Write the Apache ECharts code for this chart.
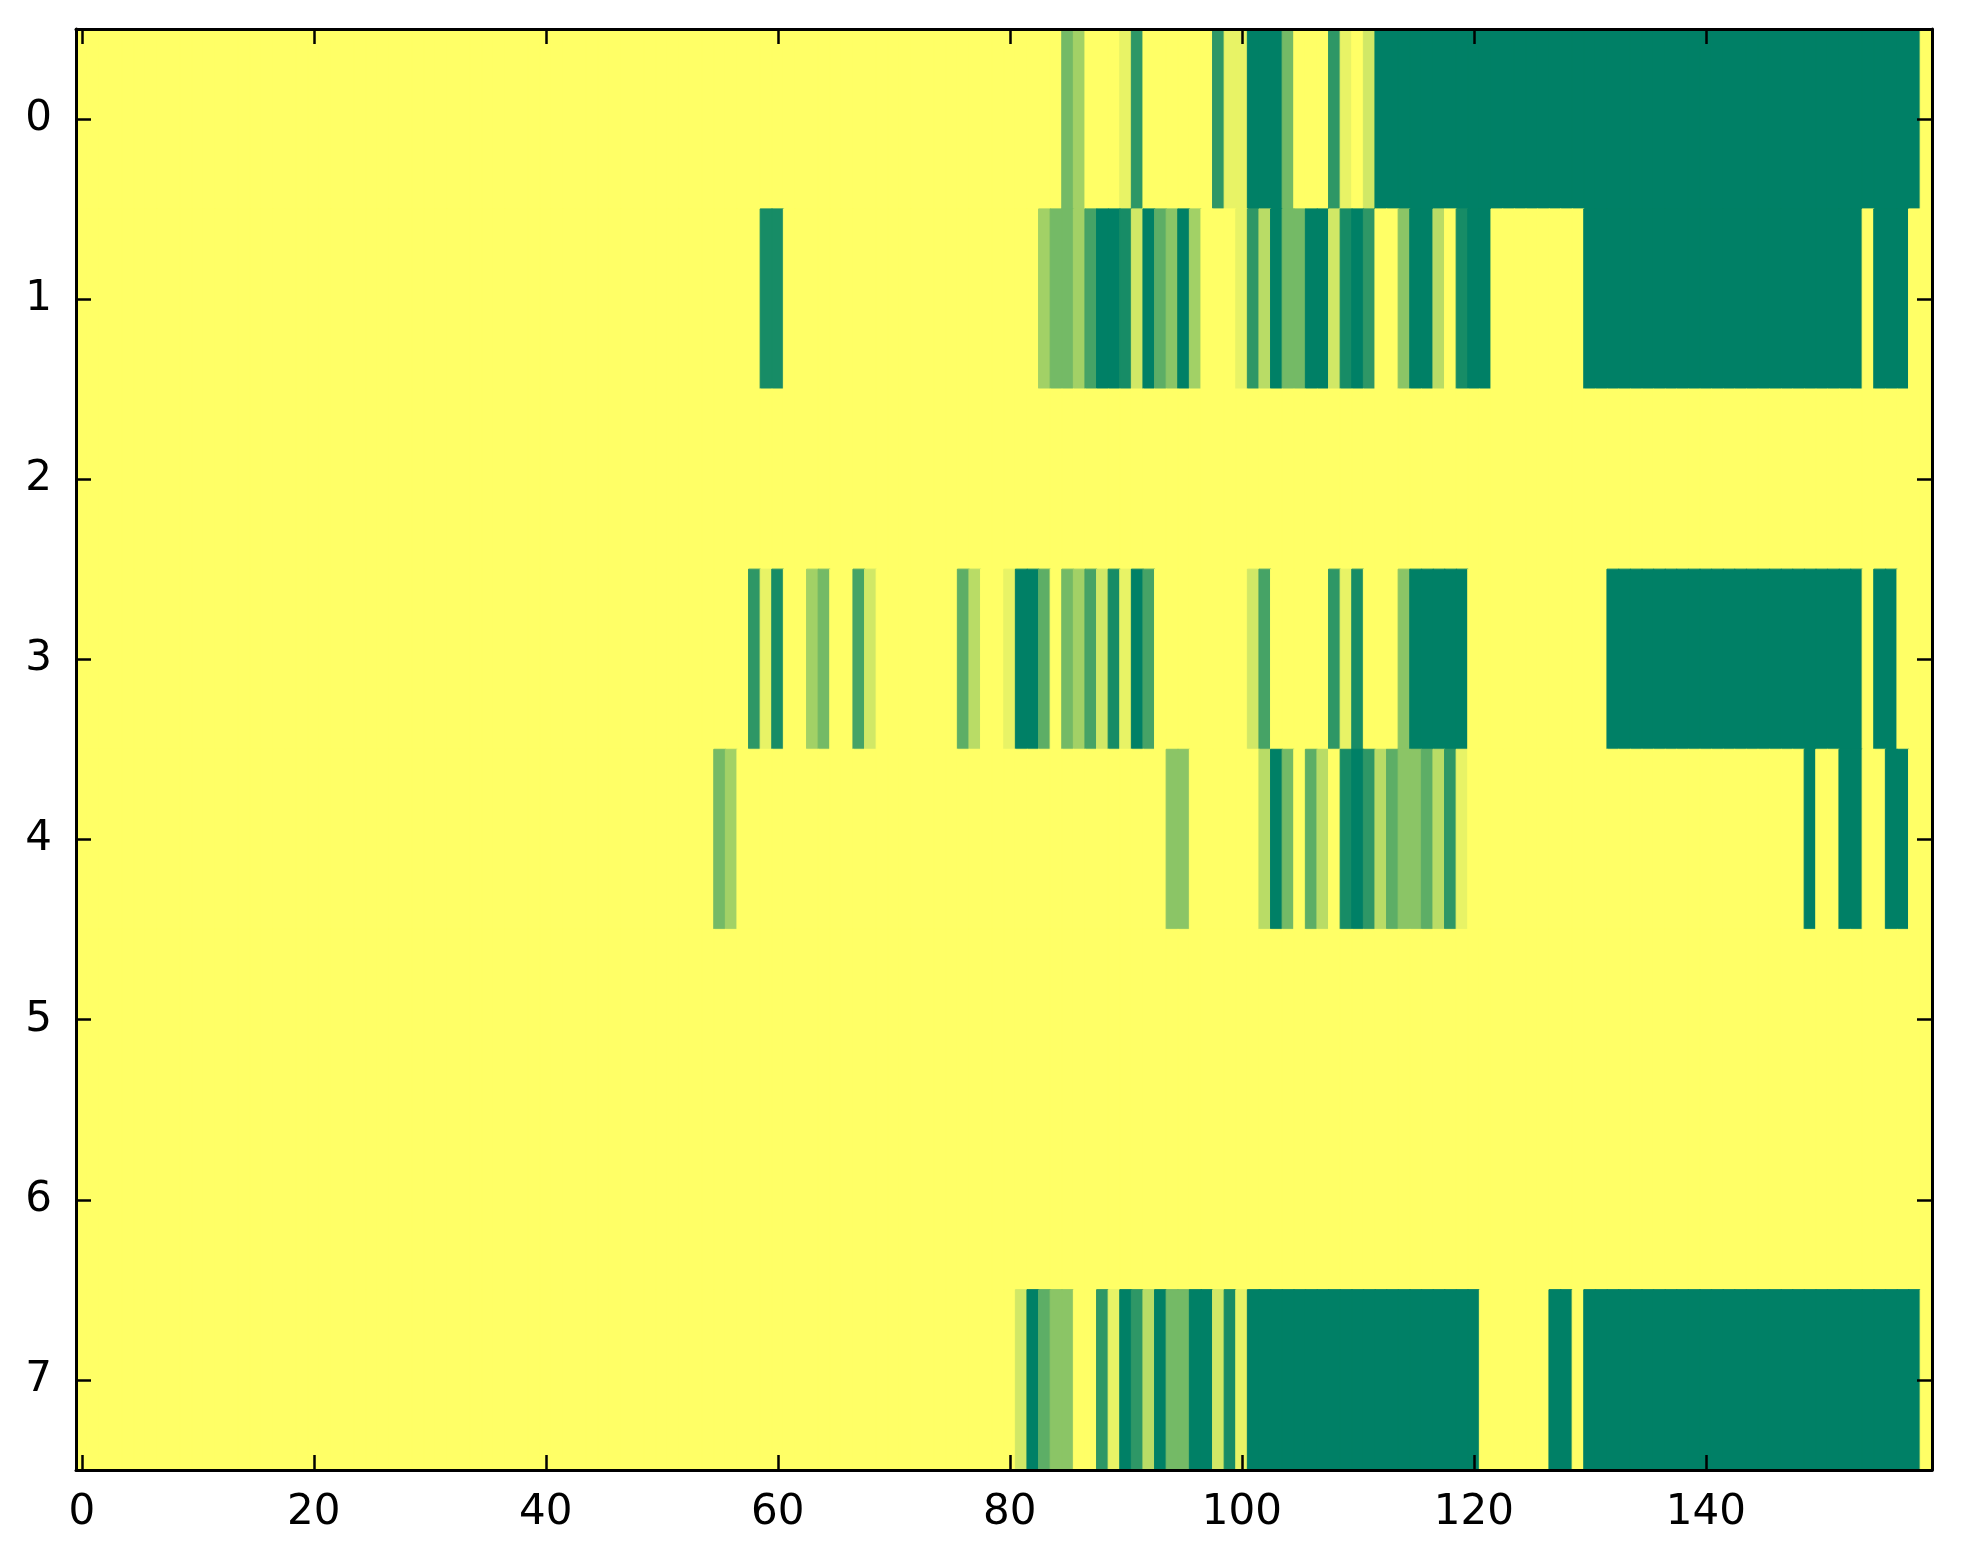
<!DOCTYPE html>
<html>
<head>
<meta charset="utf-8">
<script src="https://cdn.jsdelivr.net/npm/echarts@6/dist/echarts.min.js"></script>
<style>
html,body{margin:0;padding:0;background:#fff;}
#chart{width:1963px;height:1564px;}
</style>
</head>
<body>
<div id="chart"></div>
<script>
// Row labels (y) and x tick labels
var rowLabels = ['0','1','2','3','4','5','6','7'];
var xTickLabels = ['0','20','40','60','80','100','120','140'];
var nCols = 160;

// Cell values per row (160 columns each), colour scale 0..11
var row0 = [
0,0,0,0,0,0,0,0,0,0,0,0,0,0,0,0,0,0,0,0,
0,0,0,0,0,0,0,0,0,0,0,0,0,0,0,0,0,0,0,0,
0,0,0,0,0,0,0,0,0,0,0,0,0,0,0,0,0,0,0,0,
0,0,0,0,0,0,0,0,0,0,0,0,0,0,0,0,0,0,0,0,
0,0,0,0,0,6,4,0,0,0,1,9,0,0,0,0,0,0,9,1,
1,11,11,11,6,0,0,0,9,1,0,2,11,11,11,11,11,11,11,11,
11,11,11,11,11,11,11,11,11,11,11,11,11,11,11,11,11,11,11,11,
11,11,11,11,11,11,11,11,11,11,11,11,11,11,11,11,11,11,11,0
];
var row1 = [
0,0,0,0,0,0,0,0,0,0,0,0,0,0,0,0,0,0,0,0,
0,0,0,0,0,0,0,0,0,0,0,0,0,0,0,0,0,0,0,0,
0,0,0,0,0,0,0,0,0,0,0,0,0,0,0,0,0,0,0,10,
10,0,0,0,0,0,0,0,0,0,0,0,0,0,0,0,0,0,0,0,
0,0,0,4,6,6,4,8,11,11,10,2,11,7,5,11,4,0,0,0,
1,9,3,11,6,6,11,11,2,10,11,9,0,0,5,11,11,3,0,10,
11,11,0,0,0,0,0,0,0,0,11,11,11,11,11,11,11,11,11,11,
11,11,11,11,11,11,11,11,11,11,11,11,11,11,0,11,11,11,0,0
];
var row2 = [
0,0,0,0,0,0,0,0,0,0,0,0,0,0,0,0,0,0,0,0,
0,0,0,0,0,0,0,0,0,0,0,0,0,0,0,0,0,0,0,0,
0,0,0,0,0,0,0,0,0,0,0,0,0,0,0,0,0,0,0,0,
0,0,0,0,0,0,0,0,0,0,0,0,0,0,0,0,0,0,0,0,
0,0,0,0,0,0,0,0,0,0,0,0,0,0,0,0,0,0,0,0,
0,0,0,0,0,0,0,0,0,0,0,0,0,0,0,0,0,0,0,0,
0,0,0,0,0,0,0,0,0,0,0,0,0,0,0,0,0,0,0,0,
0,0,0,0,0,0,0,0,0,0,0,0,0,0,0,0,0,0,0,0
];
var row3 = [
0,0,0,0,0,0,0,0,0,0,0,0,0,0,0,0,0,0,0,0,
0,0,0,0,0,0,0,0,0,0,0,0,0,0,0,0,0,0,0,0,
0,0,0,0,0,0,0,0,0,0,0,0,0,0,0,0,0,0,9,1,
10,0,0,4,6,0,0,8,2,0,0,0,0,0,0,0,7,3,0,0,
1,11,11,7,0,6,4,8,2,10,1,11,8,0,0,0,0,0,0,0,
0,2,8,0,0,0,0,0,9,1,10,0,0,0,5,11,11,11,11,11,
0,0,0,0,0,0,0,0,0,0,0,0,11,11,11,11,11,11,11,11,
11,11,11,11,11,11,11,11,11,11,11,11,11,11,0,11,11,0,0,0
];
var row4 = [
0,0,0,0,0,0,0,0,0,0,0,0,0,0,0,0,0,0,0,0,
0,0,0,0,0,0,0,0,0,0,0,0,0,0,0,0,0,0,0,0,
0,0,0,0,0,0,0,0,0,0,0,0,0,0,0,6,4,0,0,0,
0,0,0,0,0,0,0,0,0,0,0,0,0,0,0,0,0,0,0,0,
0,0,0,0,0,0,0,0,0,0,0,0,0,0,5,5,0,0,0,0,
0,0,3,11,6,0,7,3,0,10,11,9,3,7,5,5,7,3,9,1,
0,0,0,0,0,0,0,0,0,0,0,0,0,0,0,0,0,0,0,0,
0,0,0,0,0,0,0,0,0,11,0,0,11,11,0,0,11,11,0,0
];
var row5 = [
0,0,0,0,0,0,0,0,0,0,0,0,0,0,0,0,0,0,0,0,
0,0,0,0,0,0,0,0,0,0,0,0,0,0,0,0,0,0,0,0,
0,0,0,0,0,0,0,0,0,0,0,0,0,0,0,0,0,0,0,0,
0,0,0,0,0,0,0,0,0,0,0,0,0,0,0,0,0,0,0,0,
0,0,0,0,0,0,0,0,0,0,0,0,0,0,0,0,0,0,0,0,
0,0,0,0,0,0,0,0,0,0,0,0,0,0,0,0,0,0,0,0,
0,0,0,0,0,0,0,0,0,0,0,0,0,0,0,0,0,0,0,0,
0,0,0,0,0,0,0,0,0,0,0,0,0,0,0,0,0,0,0,0
];
var row6 = [
0,0,0,0,0,0,0,0,0,0,0,0,0,0,0,0,0,0,0,0,
0,0,0,0,0,0,0,0,0,0,0,0,0,0,0,0,0,0,0,0,
0,0,0,0,0,0,0,0,0,0,0,0,0,0,0,0,0,0,0,0,
0,0,0,0,0,0,0,0,0,0,0,0,0,0,0,0,0,0,0,0,
0,0,0,0,0,0,0,0,0,0,0,0,0,0,0,0,0,0,0,0,
0,0,0,0,0,0,0,0,0,0,0,0,0,0,0,0,0,0,0,0,
0,0,0,0,0,0,0,0,0,0,0,0,0,0,0,0,0,0,0,0,
0,0,0,0,0,0,0,0,0,0,0,0,0,0,0,0,0,0,0,0
];
var row7 = [
0,0,0,0,0,0,0,0,0,0,0,0,0,0,0,0,0,0,0,0,
0,0,0,0,0,0,0,0,0,0,0,0,0,0,0,0,0,0,0,0,
0,0,0,0,0,0,0,0,0,0,0,0,0,0,0,0,0,0,0,0,
0,0,0,0,0,0,0,0,0,0,0,0,0,0,0,0,0,0,0,0,
0,2,11,7,5,5,0,0,9,1,11,9,3,11,6,6,11,11,2,10,
1,11,11,11,11,11,11,11,11,11,11,11,11,11,11,11,11,11,11,11,
11,0,0,0,0,0,0,11,11,0,11,11,11,11,11,11,11,11,11,11,
11,11,11,11,11,11,11,11,11,11,11,11,11,11,11,11,11,11,11,0
];
var rows = [row0,row1,row2,row3,row4,row5,row6,row7];

var vMin = 0, vMax = 11;
var rampColors = ['#ffff66','#008066'];

var colCats = [];
for (var c = 0; c < nCols; c++) colCats.push(String(c));

// Build heatmap items; border matches fill to hide anti-alias seams
var cells = [];
rows.forEach(function(r, yi){
  r.forEach(function(v, xi){
    var col = echarts.color.lerp((v - vMin) / (vMax - vMin), rampColors);
    cells.push({value:[xi, yi, v], itemStyle:{borderColor:col, borderWidth:1}});
  });
});

var font = 'DejaVu Sans';
var isTick = function(i){ return xTickLabels.indexOf(String(i)) >= 0; };
var axisLine = {show:true, onZero:false, lineStyle:{color:'#000', width:3}};
var tickStyle = {color:'#000', width:2.5};

var chart = echarts.init(document.getElementById('chart'), null, {renderer:'canvas'});
chart.setOption({
  animation:false,
  backgroundColor:'#fff',
  grid:{left:76, top:29, width:1856, height:1441, containLabel:false},
  visualMap:{type:'continuous', show:false, min:vMin, max:vMax, dimension:2, inRange:{color:rampColors}},
  xAxis:[
    {type:'category', data:colCats, position:'bottom', boundaryGap:true, z:10,
     axisLine:axisLine,
     axisTick:{show:true, inside:true, length:15, alignWithLabel:true, interval:function(i){return isTick(i);}, lineStyle:tickStyle},
     axisLabel:{show:true, interval:function(i){return isTick(i);}, color:'#000', fontSize:42, fontFamily:font, margin:22},
     splitLine:{show:false}},
    {type:'category', data:colCats, position:'top', boundaryGap:true, z:10,
     axisLine:axisLine,
     axisTick:{show:true, inside:true, length:15, alignWithLabel:true, interval:function(i){return isTick(i);}, lineStyle:tickStyle},
     axisLabel:{show:false}, splitLine:{show:false}}
  ],
  yAxis:[
    {type:'category', data:rowLabels, inverse:true, position:'left', boundaryGap:true, z:10,
     axisLine:axisLine,
     axisTick:{show:true, inside:true, length:15, alignWithLabel:true, interval:0, lineStyle:tickStyle},
     axisLabel:{show:true, interval:0, color:'#000', fontSize:42, fontFamily:font, margin:24},
     splitLine:{show:false}},
    {type:'category', data:rowLabels, inverse:true, position:'right', boundaryGap:true, z:10,
     axisLine:axisLine,
     axisTick:{show:true, inside:true, length:15, alignWithLabel:true, interval:0, lineStyle:tickStyle},
     axisLabel:{show:false}, splitLine:{show:false}}
  ],
  series:[{
    type:'heatmap', xAxisIndex:0, yAxisIndex:0, data:cells,
    progressive:0,
    emphasis:{disabled:true}
  }]
});
</script>
</body>
</html>
